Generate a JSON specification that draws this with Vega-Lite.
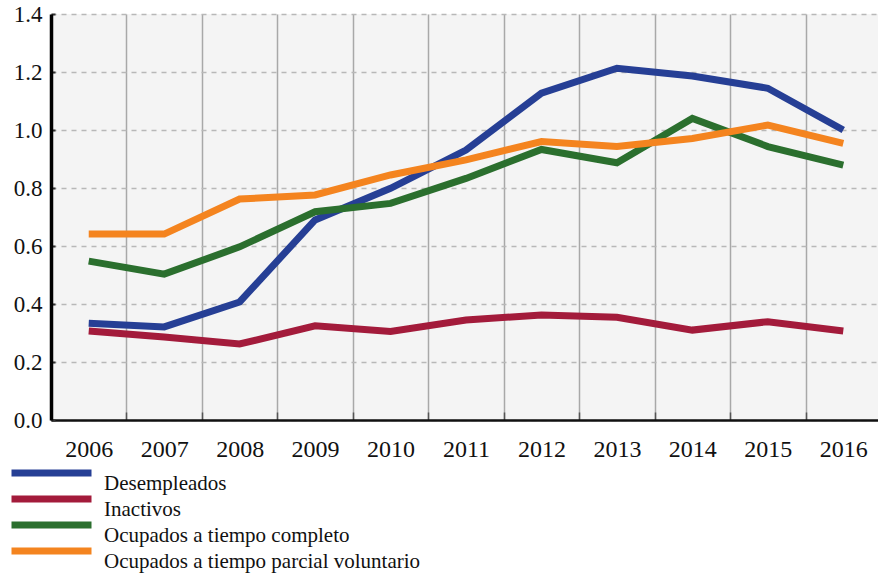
{
  "$schema": "https://vega.github.io/schema/vega-lite/v6.json",
  "autosize": {"type": "none"},
  "padding": {"left": 51, "top": 14, "right": 0, "bottom": 154},
  "width": 830,
  "height": 406,
  "background": "#ffffff",
  "config": {
    "view": {"fill": "#f4f4f4", "stroke": null},
    "font": "Liberation Serif"
  },
  "data": {
    "values": [
      {"year": "2006", "serie": "Desempleados", "v": 0.334},
      {"year": "2007", "serie": "Desempleados", "v": 0.321},
      {"year": "2008", "serie": "Desempleados", "v": 0.407},
      {"year": "2009", "serie": "Desempleados", "v": 0.69},
      {"year": "2010", "serie": "Desempleados", "v": 0.799},
      {"year": "2011", "serie": "Desempleados", "v": 0.931},
      {"year": "2012", "serie": "Desempleados", "v": 1.127},
      {"year": "2013", "serie": "Desempleados", "v": 1.213},
      {"year": "2014", "serie": "Desempleados", "v": 1.186},
      {"year": "2015", "serie": "Desempleados", "v": 1.144},
      {"year": "2016", "serie": "Desempleados", "v": 1.0},
      {"year": "2006", "serie": "Inactivos", "v": 0.307},
      {"year": "2007", "serie": "Inactivos", "v": 0.286},
      {"year": "2008", "serie": "Inactivos", "v": 0.262},
      {"year": "2009", "serie": "Inactivos", "v": 0.325},
      {"year": "2010", "serie": "Inactivos", "v": 0.305},
      {"year": "2011", "serie": "Inactivos", "v": 0.345},
      {"year": "2012", "serie": "Inactivos", "v": 0.362},
      {"year": "2013", "serie": "Inactivos", "v": 0.354},
      {"year": "2014", "serie": "Inactivos", "v": 0.31},
      {"year": "2015", "serie": "Inactivos", "v": 0.339},
      {"year": "2016", "serie": "Inactivos", "v": 0.307},
      {"year": "2006", "serie": "Ocupados a tiempo completo", "v": 0.548},
      {"year": "2007", "serie": "Ocupados a tiempo completo", "v": 0.503},
      {"year": "2008", "serie": "Ocupados a tiempo completo", "v": 0.597},
      {"year": "2009", "serie": "Ocupados a tiempo completo", "v": 0.718},
      {"year": "2010", "serie": "Ocupados a tiempo completo", "v": 0.747},
      {"year": "2011", "serie": "Ocupados a tiempo completo", "v": 0.833},
      {"year": "2012", "serie": "Ocupados a tiempo completo", "v": 0.933},
      {"year": "2013", "serie": "Ocupados a tiempo completo", "v": 0.887},
      {"year": "2014", "serie": "Ocupados a tiempo completo", "v": 1.04},
      {"year": "2015", "serie": "Ocupados a tiempo completo", "v": 0.943},
      {"year": "2016", "serie": "Ocupados a tiempo completo", "v": 0.879},
      {"year": "2006", "serie": "Ocupados a tiempo parcial voluntario", "v": 0.641},
      {"year": "2007", "serie": "Ocupados a tiempo parcial voluntario", "v": 0.641},
      {"year": "2008", "serie": "Ocupados a tiempo parcial voluntario", "v": 0.762},
      {"year": "2009", "serie": "Ocupados a tiempo parcial voluntario", "v": 0.776},
      {"year": "2010", "serie": "Ocupados a tiempo parcial voluntario", "v": 0.845},
      {"year": "2011", "serie": "Ocupados a tiempo parcial voluntario", "v": 0.897},
      {"year": "2012", "serie": "Ocupados a tiempo parcial voluntario", "v": 0.96},
      {"year": "2013", "serie": "Ocupados a tiempo parcial voluntario", "v": 0.943},
      {"year": "2014", "serie": "Ocupados a tiempo parcial voluntario", "v": 0.971},
      {"year": "2015", "serie": "Ocupados a tiempo parcial voluntario", "v": 1.017},
      {"year": "2016", "serie": "Ocupados a tiempo parcial voluntario", "v": 0.954}
    ]
  },
  "mark": {"type": "line", "strokeWidth": 7, "strokeJoin": "miter", "strokeCap": "butt"},
  "encoding": {
    "x": {
      "field": "year",
      "type": "ordinal",
      "bandPosition": 0.5,
      "scale": {"type": "band", "paddingInner": 0, "paddingOuter": 0},
      "axis": {
        "title": null,
        "labelAngle": 0,
        "labelFont": "Liberation Serif",
        "labelFontSize": 24,
        "labelColor": "#111111",
        "labelPadding": 25,
        "tickBand": "extent",
        "grid": true,
        "gridColor": "#a8a8a8",
        "gridWidth": 1.5,
        "ticks": true,
        "tickColor": "#555555",
        "tickWidth": 1.5,
        "tickSize": -8,
        "domainColor": "#111111",
        "domainWidth": 2.5
      }
    },
    "y": {
      "field": "v",
      "type": "quantitative",
      "scale": {"domain": [0, 1.4], "nice": false, "zero": true},
      "axis": {
        "title": null,
        "values": [0, 0.2, 0.4, 0.6, 0.8, 1.0, 1.2, 1.4],
        "format": ".1f",
        "labelFont": "Liberation Serif",
        "labelFontSize": 23,
        "labelColor": "#111111",
        "labelPadding": 13,
        "grid": true,
        "gridColor": "#b8b8b8",
        "gridDash": [5, 5],
        "gridWidth": 1.5,
        "ticks": true,
        "tickColor": "#333333",
        "tickWidth": 2,
        "tickSize": -4,
        "domainColor": "#000000",
        "domainWidth": 3.5
      }
    },
    "color": {
      "field": "serie",
      "type": "nominal",
      "scale": {
        "domain": ["Desempleados", "Inactivos", "Ocupados a tiempo completo", "Ocupados a tiempo parcial voluntario"],
        "range": ["#263f95", "#a31b3b", "#2b6f2e", "#f4841f"]
      },
      "legend": {
        "title": null,
        "orient": "none",
        "legendX": -43,
        "legendY": 455,
        "padding": 0,
        "symbolType": "stroke",
        "symbolSize": 6400,
        "symbolStrokeWidth": 7,
        "clipHeight": 8,
        "labelFont": "Liberation Serif",
        "labelFontSize": 21,
        "labelColor": "#111111",
        "labelBaseline": "top",
        "labelOffset": 9,
        "rowPadding": 1,
        "labelLimit": 500
      }
    }
  }
}
